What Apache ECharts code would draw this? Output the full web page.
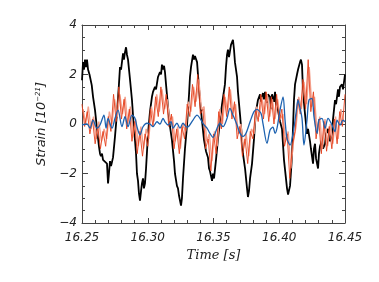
<!DOCTYPE html>
<html><head><meta charset="utf-8">
<script src="https://cdn.jsdelivr.net/npm/echarts@6/dist/echarts.min.js"></script>
<style>html,body{margin:0;padding:0;background:#fff}#c{width:379px;height:282px}</style>
</head><body><div id="c"></div>
<script>
// x tick labels / y tick labels
const xTicks = [16.25, 16.30, 16.35, 16.40, 16.45];
const yTicks = [-4, -2, 0, 2, 4];

// Black series
const blackT = [16.2500,16.2508,16.2515,16.2523,16.2530,16.2538,16.2546,16.2557,16.2574,16.2584,16.2599,16.2614,16.2629,16.2637,16.2644,16.2652,16.2660,16.2675,16.2690,16.2698,16.2705,16.2713,16.2721,16.2736,16.2751,16.2766,16.2781,16.2789,16.2797,16.2812,16.2819,16.2827,16.2835,16.2842,16.2850,16.2865,16.2880,16.2895,16.2903,16.2911,16.2918,16.2926,16.2933,16.2941,16.2949,16.2956,16.2964,16.2971,16.2979,16.2987,16.3002,16.3017,16.3032,16.3040,16.3055,16.3063,16.3078,16.3093,16.3101,16.3108,16.3116,16.3124,16.3131,16.3139,16.3154,16.3169,16.3184,16.3200,16.3207,16.3222,16.3230,16.3238,16.3253,16.3260,16.3268,16.3283,16.3298,16.3314,16.3321,16.3329,16.3344,16.3352,16.3359,16.3375,16.3382,16.3397,16.3413,16.3428,16.3443,16.3458,16.3466,16.3473,16.3489,16.3496,16.3504,16.3519,16.3534,16.3549,16.3565,16.3587,16.3595,16.3603,16.3610,16.3618,16.3633,16.3648,16.3656,16.3663,16.3679,16.3686,16.3702,16.3717,16.3724,16.3740,16.3755,16.3762,16.3770,16.3778,16.3793,16.3808,16.3816,16.3823,16.3838,16.3854,16.3861,16.3876,16.3884,16.3892,16.3907,16.3914,16.3930,16.3937,16.3945,16.3960,16.3968,16.3975,16.3990,16.4006,16.4021,16.4036,16.4051,16.4059,16.4067,16.4074,16.4082,16.4097,16.4112,16.4120,16.4135,16.4143,16.4158,16.4165,16.4173,16.4181,16.4196,16.4211,16.4219,16.4234,16.4241,16.4257,16.4264,16.4272,16.4280,16.4295,16.4302,16.4310,16.4325,16.4333,16.4348,16.4356,16.4371,16.4386,16.4401,16.4409,16.4424,16.4432,16.4447,16.4454,16.4462,16.4477,16.4485,16.4500];
const blackV = [1.77,2.5,2.2,2.6,2.3,2.6,2.2,2.0,1.57,1.1,0.56,-0.2,-0.9,-1.2,-1.3,-1.2,-1.45,-1.4,-1.6,-2.4,-2.0,-1.5,-1.7,-1.35,-0.5,0.44,1.6,2.3,2.2,2.85,2.6,2.9,3.1,2.8,2.6,1.8,0.97,-0.2,-0.65,-1.2,-2.0,-2.3,-2.8,-3.1,-2.7,-2.4,-2.2,-2.6,-2.4,-1.8,-0.4,0.5,1.1,1.3,1.5,1.4,1.9,2.1,2.0,2.4,2.2,2.35,2.1,1.6,0.7,-0.1,-0.65,-1.5,-2.0,-2.5,-2.6,-2.9,-3.3,-3.0,-2.2,-1.0,-0.1,1.2,1.9,2.3,2.8,2.6,2.75,2.5,2.0,0.97,0.1,-0.65,-1.1,-1.35,-1.8,-1.9,-2.3,-2.0,-2.2,-1.45,-0.6,0.1,0.8,1.6,2.3,2.8,3.0,2.7,3.2,3.4,3.0,2.5,1.9,1.3,0.36,-0.6,-1.2,-1.8,-2.6,-2.95,-2.7,-2.2,-1.6,-0.6,0.03,0.5,0.97,1.2,0.9,1.25,1.0,1.3,0.85,1.2,1.1,0.6,1.2,0.9,1.3,0.8,0.56,0.1,-0.2,-1.45,-2.2,-2.6,-2.85,-2.8,-2.5,-1.3,0.97,1.6,2.0,2.2,2.5,2.6,2.4,1.25,0.4,-0.4,-0.2,-0.7,-1.0,-1.6,-1.0,-0.8,-1.4,-1.8,-1.2,-0.9,-0.65,-1.0,-0.8,-0.4,-0.2,-0.7,-0.4,0.2,0.97,0.8,1.4,1.1,1.5,1.6,1.4,2.0];

// Red series (sampled every 2 ms from 16.250)
const redStart = 16.250, redStep = 0.002;
const redV = [0.8,-0.1,0.5,-0.4,0.2,-0.8,-0.1,-1.0,-0.3,-0.9,0.3,-0.3,1.2,0.1,1.5,0.2,1.0,-0.2,0.6,-0.7,0.1,-1.2,-0.3,-1.3,-0.4,-0.9,0.6,-0.1,1.1,0.3,1.5,0.4,1.2,-0.1,0.4,-1.0,-0.2,-1.2,-0.1,-0.6,0.8,0.3,1.6,0.7,2.0,0.4,0.6,-1.0,-0.6,-1.9,-0.4,-1.2,0.5,-0.2,1.2,0.3,1.5,0.2,0.9,-0.6,-0.1,-1.3,-0.6,-1.6,-0.3,-0.6,0.6,0.1,1.2,0.2,1.3,0.1,1.1,0.0,1.2,0.1,0.6,-0.9,-0.4,-2.2,-0.9,-0.3,1.0,0.4,1.8,0.6,2.6,0.5,1.3,-0.6,0.2,-1.2,0.1,-1.1,-0.1,-1.0,0.2,-0.8,0.5,-0.1,1.2];

// Salmon series (sampled every 2 ms from 16.2508)
const salStart = 16.2508, salStep = 0.002;
const salV = [0.6,0.0,0.7,-0.2,0.3,-0.6,0.1,-0.7,-0.2,-0.6,0.5,0.0,1.0,0.3,1.2,0.4,1.1,0.0,0.7,-0.5,0.2,-0.9,-0.1,-1.0,-0.2,-0.6,0.7,0.1,1.2,0.5,1.4,0.6,1.0,0.1,0.3,-0.7,-0.1,-1.0,0.0,-0.3,0.9,0.5,1.5,0.9,1.8,0.6,0.7,-0.7,-0.4,-1.5,-0.3,-0.9,0.6,0.0,1.1,0.5,1.4,0.4,0.8,-0.4,0.0,-1.0,-0.4,-1.3,-0.2,-0.4,0.7,0.3,1.1,0.4,1.2,0.3,1.0,0.2,1.0,0.2,0.4,-0.7,-0.3,-1.8,-0.7,-0.1,1.1,0.6,1.7,0.8,2.3,0.7,1.1,-0.4,0.3,-1.0,0.2,-0.9,0.0,-0.8,0.3,-0.6,0.6,0.1];

// Blue series
const blueT = [16.2500,16.2538,16.2561,16.2584,16.2614,16.2637,16.2667,16.2683,16.2698,16.2728,16.2751,16.2774,16.2804,16.2827,16.2850,16.2880,16.2903,16.2918,16.2941,16.2964,16.2994,16.3017,16.3040,16.3070,16.3093,16.3116,16.3131,16.3154,16.3177,16.3192,16.3222,16.3245,16.3268,16.3298,16.3314,16.3344,16.3375,16.3397,16.3428,16.3451,16.3473,16.3496,16.3527,16.3549,16.3572,16.3603,16.3625,16.3648,16.3679,16.3702,16.3724,16.3747,16.3778,16.3808,16.3831,16.3861,16.3876,16.3907,16.3930,16.3952,16.3968,16.3983,16.4006,16.4029,16.4044,16.4059,16.4082,16.4105,16.4127,16.4143,16.4150,16.4173,16.4188,16.4211,16.4226,16.4249,16.4264,16.4287,16.4302,16.4325,16.4348,16.4371,16.4401,16.4424,16.4439,16.4462,16.4485,16.4500];
const blueV = [-0.04,0,-0.17,0.16,-0.17,-0.04,0.36,-0.17,0.23,-0.17,0.23,0.56,-0.11,0.3,-0.11,0.36,0.23,-0.11,-0.44,-0.11,0.03,0,-0.11,0.09,0,0.23,0.09,-0.04,0.09,-0.17,0.03,-0.17,0.03,-0.13,-0.08,0.16,0.36,0.23,-0.04,-0.17,-0.38,-0.54,-0.17,0.03,-0.11,0.23,0.63,0.36,-0.04,-0.38,-0.51,-0.38,0.09,0.5,0.59,0.43,0.03,-0.78,-0.24,-0.13,-0.38,-0.17,0.56,1.1,0.16,-0.58,-0.85,-0.38,0.43,0.97,0.83,0.23,-0.85,0.16,0.97,1.03,0.3,-0.38,0.16,0.23,-0.17,0.23,-0.04,-0.31,0.16,-0.04,0.16,0.09];

const zip = (t, v) => t.map((x, i) => [x, v[i]]);
const grid = (s, st, v) => v.map((y, i) => [+(s + st * i).toFixed(4), y]);

const axisColor = '#444';
const labelFont = { fontFamily: 'DejaVu Sans', fontStyle: 'italic', fontSize: 12, color: '#222' };
const line = { show: true, onZero: false, lineStyle: { color: axisColor, width: 1 } };

const chart = echarts.init(document.getElementById('c'), null, { renderer: 'canvas' });
chart.setOption({
  animation: false,
  grid: { left: 82, right: 34, top: 25, bottom: 59, show: false },
  xAxis: [{
    type: 'value', min: xTicks[0], max: xTicks[xTicks.length - 1], interval: 0.05,
    axisLine: line,
    axisTick: { show: true, inside: true, length: 5, lineStyle: { color: axisColor } },
    minorTick: { show: true, splitNumber: 5, length: 3, lineStyle: { color: axisColor } },
    splitLine: { show: false },
    axisLabel: Object.assign({ margin: 9, formatter: v => v.toFixed(2) }, labelFont),
    name: 'Time [s]', nameLocation: 'middle', nameGap: 25,
    nameTextStyle: { fontFamily: 'DejaVu Serif', fontStyle: 'italic', fontSize: 13, color: '#222' }
  }, {
    type: 'value', position: 'top', min: xTicks[0], max: xTicks[xTicks.length - 1], interval: 0.05,
    axisLine: line,
    axisTick: { show: true, inside: true, length: 5, lineStyle: { color: axisColor } },
    minorTick: { show: true, splitNumber: 5, length: 3, lineStyle: { color: axisColor } },
    splitLine: { show: false }, axisLabel: { show: false }
  }],
  yAxis: [{
    type: 'value', min: yTicks[0], max: yTicks[yTicks.length - 1], interval: 2,
    axisLine: line,
    axisTick: { show: true, inside: true, length: 6, lineStyle: { color: axisColor } },
    minorTick: { show: true, splitNumber: 4, length: 3, lineStyle: { color: axisColor } },
    splitLine: { show: false },
    axisLabel: Object.assign({ margin: 5, formatter: v => String(v).replace('-', '\u2212') }, labelFont),
    name: 'Strain [10{sup|\u221221}]', nameLocation: 'middle', nameGap: 29, nameRotate: 90,
    nameTextStyle: { fontFamily: 'DejaVu Sans', fontStyle: 'italic', fontSize: 13, color: '#222',
      rich: { sup: { fontFamily: 'DejaVu Sans', fontStyle: 'italic', fontSize: 7, color: '#222', verticalAlign: 'top', padding: [0, 0, 8, 0] } } }
  }, {
    type: 'value', position: 'right', min: yTicks[0], max: yTicks[yTicks.length - 1], interval: 2,
    axisLine: line,
    axisTick: { show: true, inside: true, length: 6, lineStyle: { color: axisColor } },
    minorTick: { show: true, splitNumber: 4, length: 3, lineStyle: { color: axisColor } },
    splitLine: { show: false }, axisLabel: { show: false }
  }],
  series: [
    { type: 'line', data: zip(blackT, blackV), showSymbol: false, lineStyle: { color: '#000', width: 1.8 }, z: 2 },
    { type: 'line', data: grid(salStart, salStep, salV), showSymbol: false, lineStyle: { color: '#f4a08c', width: 1.4 }, z: 3 },
    { type: 'line', data: grid(redStart, redStep, redV), showSymbol: false, lineStyle: { color: '#e4401c', width: 0.9 }, z: 4 },
    { type: 'line', data: zip(blueT, blueV), showSymbol: false, smooth: 0.3, lineStyle: { color: '#1d62b0', width: 1.3 }, z: 5 }
  ]
});
</script></body></html>
